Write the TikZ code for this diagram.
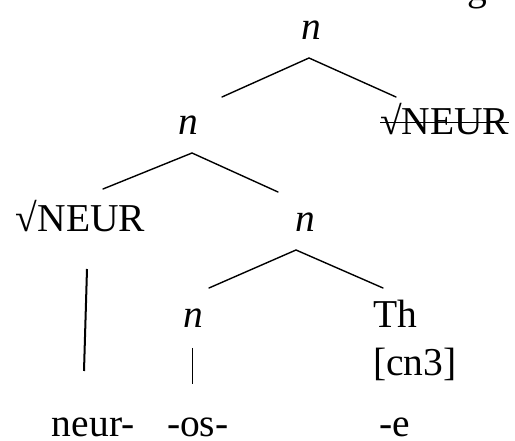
\documentclass[tikz,border=0pt]{standalone}
\usepackage{fontspec}
\setmainfont{Liberation Serif}
\begin{document}
\begin{tikzpicture}[x=1pt,y=-1pt,
  lbl/.style={inner sep=0pt,outer sep=0pt,font=\fontsize{39.5}{42}\selectfont},
  cat/.style={lbl,font=\fontsize{39.5}{42}\selectfont\itshape,anchor=base},
  lft/.style={lbl,anchor=base west},
  br/.style={line width=1.4pt,line cap=round},
  ]
\useasboundingbox (0,0) rectangle (515,441);
% partial letter at top right
\node[lbl,anchor=base] (g) at (477,1) {g};
% nodes
\node[cat] (n1) at (311,40) {n};
\node[cat] (n2) at (188,135) {n};
\node[lft] (rootS) at (380,135) {√NEUR};
\node[lft] (root) at (16,232) {√NEUR};
\node[cat] (n3) at (305,232) {n};
\node[cat] (n4) at (193,328) {n};
\node[lft] (th) at (373,328) {Th};
\node[lft] (cn) at (373,375) {[cn3]};
\node[lft] (neur) at (52,436) {neur-};
\node[lft] (os) at (167,436) {-os-};
\node[lft] (e) at (379,436) {-e};
% strike-through
\draw[line width=1.3pt] ([yshift=12.5pt]rootS.base west) -- ([yshift=12.5pt]rootS.base east);
% branch points
\coordinate (a1) at (309,58);
\coordinate (a1l) at (222,97);
\coordinate (a1r) at (396,97);
\coordinate (a2) at (192,153);
\coordinate (a2l) at (103,189);
\coordinate (a2r) at (278,192);
\coordinate (a3) at (296,250);
\coordinate (a3l) at (209,288);
\coordinate (a3r) at (383,288);
\coordinate (v1t) at (87,269);
\coordinate (v1b) at (84,371);
\coordinate (v2t) at (192,348);
\coordinate (v2b) at (192,384);
\draw[br] (a1l) -- (a1) -- (a1r);
\draw[br] (a2l) -- (a2) -- (a2r);
\draw[br] (a3l) -- (a3) -- (a3r);
\draw[line width=2pt] (v1t) -- (v1b);
\draw[line width=1pt] (v2t) -- (v2b);
\end{tikzpicture}
\end{document}
